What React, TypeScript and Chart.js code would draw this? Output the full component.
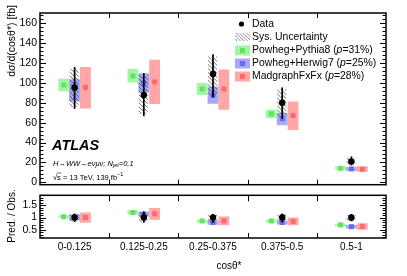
import React, { useEffect, useRef } from 'react';
import { Chart, registerables } from 'chart.js';

Chart.register(...registerables);

const FONT = '"Liberation Sans", Arial, Helvetica, sans-serif';

const categories = ['0-0.125', '0.125-0.25', '0.25-0.375', '0.375-0.5', '0.5-1'];

// ---- main panel (fb) ----
const dataVal = [95.5, 88, 109, 80, 21];
const dataLo = [74, 66.5, 85.3, 64, 17];
const dataHi = [116, 110, 129, 95.5, 26];
const sysLo = [76, 69, 87.5, 66, 17.8];
const sysHi = [114, 108, 127, 94, 24.5];

const pythiaVal = [97.9, 107, 94, 69, 14];
const pythiaLo = [91.7, 100.4, 87.8, 64.6, 12.4];
const pythiaHi = [104.3, 114, 100, 73, 16.2];

const herwigVal = [95.5, 100, 87.5, 64, 13.4];
const herwigLo = [81.4, 90.4, 79.1, 57.5, 11.4];
const herwigHi = [103.7, 109.8, 96.2, 69.8, 15.3];

const mgVal = [95.5, 101, 94, 67.2, 13];
const mgLo = [74.3, 78.8, 73, 52.7, 10.5];
const mgHi = [116, 123.3, 113.6, 81.4, 16];

// ---- ratio panel (Pred./Obs.) ----
const ratioData = [1, 1, 1, 1, 1];
const ratioDataLo = [0.82, 0.79, 0.79, 0.8, 0.85];
const ratioDataHi = [1.16, 1.25, 1.14, 1.16, 1.14];
const ratioSysLo = [0.84, 0.81, 0.81, 0.82, 0.86];
const ratioSysHi = [1.14, 1.23, 1.12, 1.14, 1.12];

const pythiaRatio = [1.03, 1.2, 0.86, 0.86, 0.7];
const pythiaRatioLo = [0.99, 1.12, 0.79, 0.8, 0.65];
const pythiaRatioHi = [1.09, 1.29, 0.91, 0.91, 0.75];

const herwigRatio = [1.0, 1.13, 0.8, 0.8, 0.63];
const herwigRatioLo = [0.88, 1.04, 0.71, 0.72, 0.55];
const herwigRatioHi = [1.12, 1.23, 0.88, 0.87, 0.7];

const mgRatio = [1.0, 1.15, 0.86, 0.84, 0.64];
const mgRatioLo = [0.79, 0.91, 0.69, 0.69, 0.5];
const mgRatioHi = [1.2, 1.39, 1.04, 1.0, 0.77];

// ---- ticks / legend ----
const mainTicks = [0, 20, 40, 60, 80, 100, 120, 140, 160];
const ratioTicks = [0.5, 1, 1.5];
const ratioTickLabels = ['0.5', '1', '1.5'];
const modelNames = ['Powheg+Pythia8', 'Powheg+Herwig7', 'MadgraphFxFx'];
const modelP = ['31%', '25%', '28%'];

const boxColors = ['#a2f5a2', '#a8a8f8', '#ffa6a6'];
const markColors = ['#5fe55f', '#6a6af3', '#ff6a6a'];

function drawHatch(ctx: CanvasRenderingContext2D, x: number, y: number, w: number, h: number, sp: number, color: string) {
  ctx.save();
  ctx.beginPath();
  ctx.rect(x, y, w, h);
  ctx.clip();
  ctx.beginPath();
  const L = h + w + 4;
  for (let s = -L; s < w + 2; s += sp) {
    ctx.moveTo(x + s, y);
    ctx.lineTo(x + s + L, y + L);
  }
  ctx.strokeStyle = color;
  ctx.lineWidth = 0.7;
  ctx.stroke();
  ctx.restore();
}

function makeDecor(o: any) {
  return {
    id: o.id,
    beforeDatasetDraw(chart: any, args: any) {
      if (args.meta.type !== 'line') return;
      const ctx = chart.ctx;
      const ys = chart.scales.y;
      ctx.save();
      args.meta.data.forEach((pt: any, i: number) => {
        const x = pt.x;
        const yt = ys.getPixelForValue(o.sysHi[i]);
        const yb = ys.getPixelForValue(o.sysLo[i]);
        drawHatch(ctx, x - 5, yt, 9, yb - yt, 4, '#333');
        ctx.beginPath();
        ctx.moveTo(x, ys.getPixelForValue(o.hi[i]));
        ctx.lineTo(x, ys.getPixelForValue(o.lo[i]));
        ctx.strokeStyle = '#000';
        ctx.lineWidth = 1.7;
        ctx.stroke();
      });
      ctx.restore();
    },
    afterDatasetDraw(chart: any, args: any) {
      if (args.meta.type !== 'bar') return;
      const ctx = chart.ctx;
      const ys = chart.scales.y;
      const centers = o.centers[args.index];
      ctx.save();
      ctx.fillStyle = markColors[args.index];
      args.meta.data.forEach((el: any, i: number) => {
        const y = ys.getPixelForValue(centers[i]);
        ctx.fillRect(el.x - 2.5, y - 2.5, 5, 5);
      });
      ctx.restore();
    },
    afterDraw(chart: any) {
      const ctx = chart.ctx;
      const a = chart.chartArea;
      const ys = chart.scales.y;
      const xs = chart.scales.x;
      ctx.save();
      ctx.strokeStyle = '#000';
      ctx.lineWidth = 1;
      ctx.beginPath();
      const kmin = Math.ceil(ys.min / o.minor - 1e-9);
      for (let k = kmin; k * o.minor <= ys.max + 1e-9; k++) {
        const v = k * o.minor;
        const py = Math.round(ys.getPixelForValue(v)) + 0.5;
        const r = v / o.major;
        const major = Math.abs(r - Math.round(r)) < 1e-6;
        const len = major ? 6 : 3.5;
        ctx.moveTo(a.left, py);
        ctx.lineTo(a.left + len, py);
        ctx.moveTo(a.right, py);
        ctx.lineTo(a.right - len, py);
      }
      for (let i = 1; i < categories.length; i++) {
        const px = Math.round((xs.getPixelForValue(i - 1) + xs.getPixelForValue(i)) / 2) + 0.5;
        ctx.moveTo(px, a.top);
        ctx.lineTo(px, a.top + o.topTick);
        ctx.moveTo(px, a.bottom);
        ctx.lineTo(px, a.bottom - o.bottomTick);
      }
      ctx.stroke();
      ctx.lineWidth = 1.5;
      ctx.strokeRect(a.left, a.top, a.right - a.left, a.bottom - a.top);
      ctx.restore();
      o.drawText(chart);
    },
  };
}

function richText(ctx: CanvasRenderingContext2D, parts: any[], x: number, y: number) {
  let cx = x;
  for (const p of parts) {
    ctx.font = p.font;
    ctx.fillText(p.t, cx, y + (p.dy || 0));
    cx += ctx.measureText(p.t).width;
  }
  return cx;
}

function drawMainText(chart: any) {
  const ctx = chart.ctx as CanvasRenderingContext2D;
  ctx.save();
  ctx.fillStyle = '#000';
  ctx.textBaseline = 'middle';
  ctx.save();
  ctx.translate(12, 5);
  ctx.rotate(-Math.PI / 2);
  ctx.textAlign = 'right';
  ctx.font = `10.5px ${FONT}`;
  ctx.fillText('dσ/d(cosθ*) [fb]', 0, 0);
  ctx.restore();
  ctx.textAlign = 'left';
  ctx.font = `italic bold 14.5px ${FONT}`;
  ctx.fillText('ATLAS', 52, 146);
  const n = `italic 7.5px ${FONT}`;
  const nsub = `italic 5.5px ${FONT}`;
  richText(ctx, [
    { t: 'H→WW→eνμν; N', font: n },
    { t: 'jet', font: nsub, dy: 2 },
    { t: '=0,1', font: n },
  ], 53, 163.5);
  const e = `7.5px ${FONT}`;
  const sx = 53;
  richText(ctx, [
    { t: '√', font: e },
    { t: 's', font: e },
    { t: ' = 13 TeV, 139 fb', font: e },
    { t: '−1', font: `5.5px ${FONT}`, dy: -3 },
  ], sx, 177.5);
  ctx.font = e;
  const w1 = ctx.measureText('√').width;
  const w2 = ctx.measureText('s').width;
  ctx.beginPath();
  ctx.moveTo(sx + w1 - 0.5, 173);
  ctx.lineTo(sx + w1 + w2 + 0.3, 173);
  ctx.lineWidth = 0.6;
  ctx.strokeStyle = '#000';
  ctx.stroke();

  const lx = 235;
  const tx = 252;
  const f = `10.4px ${FONT}`;
  const fi = `italic 10.4px ${FONT}`;
  ctx.beginPath();
  ctx.arc(241.5, 24, 2.6, 0, Math.PI * 2);
  ctx.fill();
  ctx.font = f;
  ctx.fillText('Data', tx, 24);
  drawHatch(ctx, lx, 32.5, 15, 8.5, 3.5, '#666');
  ctx.fillStyle = '#000';
  ctx.font = f;
  ctx.fillText('Sys. Uncertainty', tx, 37);
  const ys = [50.5, 63.5, 76.5];
  for (let i = 0; i < 3; i++) {
    ctx.fillStyle = boxColors[i];
    ctx.fillRect(lx, ys[i] - 5, 15, 10);
    ctx.fillStyle = markColors[i];
    ctx.fillRect(lx + 5, ys[i] - 2.5, 5, 5);
    ctx.fillStyle = '#000';
    richText(ctx, [
      { t: modelNames[i] + ' (', font: f },
      { t: 'p', font: fi },
      { t: '=' + modelP[i] + ')', font: f },
    ], tx, ys[i]);
  }
  ctx.restore();
}

function drawRatioText(chart: any) {
  const ctx = chart.ctx as CanvasRenderingContext2D;
  ctx.save();
  ctx.fillStyle = '#000';
  ctx.textBaseline = 'middle';
  ctx.save();
  ctx.translate(12, 30);
  ctx.rotate(-Math.PI / 2);
  ctx.textAlign = 'center';
  ctx.font = `10px ${FONT}`;
  ctx.fillText('Pred. / Obs.', 0, 0);
  ctx.restore();
  ctx.textAlign = 'center';
  ctx.font = `10px ${FONT}`;
  ctx.fillText('cosθ*', 229, 80);
  ctx.restore();
}

function barSet(i: number, lo: number[], hi: number[]) {
  return {
    type: 'bar' as const,
    label: modelNames[i],
    data: lo.map((l, k) => [l, hi[k]]),
    backgroundColor: boxColors[i],
    borderWidth: 0,
    categoryPercentage: 0.47,
    barPercentage: 1,
    order: 2,
  };
}

export default function App() {
  const mainRef = useRef<HTMLCanvasElement>(null);
  const ratioRef = useRef<HTMLCanvasElement>(null);

  useEffect(() => {
    const yAxisCommon = {
      grid: { display: false, drawTicks: false },
      border: { display: false },
      afterFit: (s: any) => { s.width = 40; },
    };

    const main = new Chart(mainRef.current!, {
      type: 'bar',
      data: {
        labels: categories,
        datasets: [
          barSet(0, pythiaLo, pythiaHi),
          barSet(1, herwigLo, herwigHi),
          barSet(2, mgLo, mgHi),
          {
            type: 'line' as const,
            label: 'Data',
            data: dataVal,
            showLine: false,
            pointRadius: 3.2,
            pointBackgroundColor: '#000',
            pointBorderWidth: 0,
            order: 1,
          } as any,
        ],
      },
      options: {
        responsive: false,
        animation: false,
        devicePixelRatio: 1,
        layout: { padding: { top: 13, bottom: 2, left: 0, right: 21 } },
        plugins: { legend: { display: false }, tooltip: { enabled: false } },
        scales: {
          x: { display: false, offset: true },
          y: {
            ...yAxisCommon,
            min: -2.5,
            max: 170.5,
            afterBuildTicks: (s: any) => { s.ticks = mainTicks.map((v) => ({ value: v })); },
            ticks: {
              color: '#000',
              padding: 3,
              font: { family: FONT, size: 10.5 },
              callback: (v: any) => String(v),
            },
          },
        },
      } as any,
      plugins: [makeDecor({
        id: 'mainDecor',
        lo: dataLo, hi: dataHi, sysLo, sysHi,
        centers: [pythiaVal, herwigVal, mgVal],
        minor: 4, major: 20, topTick: 5, bottomTick: 5,
        drawText: drawMainText,
      })],
    });

    const ratio = new Chart(ratioRef.current!, {
      type: 'bar',
      data: {
        labels: categories,
        datasets: [
          barSet(0, pythiaRatioLo, pythiaRatioHi),
          barSet(1, herwigRatioLo, herwigRatioHi),
          barSet(2, mgRatioLo, mgRatioHi),
          {
            type: 'line' as const,
            label: 'Data',
            data: ratioData,
            showLine: false,
            pointRadius: 3.2,
            pointBackgroundColor: '#000',
            pointBorderWidth: 0,
            order: 1,
          } as any,
        ],
      },
      options: {
        responsive: false,
        animation: false,
        devicePixelRatio: 1,
        layout: { padding: { top: 6, bottom: 0, left: 0, right: 21 } },
        plugins: { legend: { display: false }, tooltip: { enabled: false } },
        scales: {
          x: {
            offset: true,
            grid: { display: false, drawTicks: false },
            border: { display: false },
            afterFit: (s: any) => { s.height = 38; },
            ticks: {
              color: '#000',
              padding: 3,
              maxRotation: 0,
              autoSkip: false,
              font: { family: FONT, size: 10 },
            },
          },
          y: {
            ...yAxisCommon,
            min: 0.17,
            max: 1.9,
            afterBuildTicks: (s: any) => { s.ticks = ratioTicks.map((v) => ({ value: v })); },
            ticks: {
              color: '#000',
              padding: 3,
              font: { family: FONT, size: 10.5 },
              callback: (v: any) => ratioTickLabels[ratioTicks.indexOf(Number(v))] ?? '',
            },
          },
        },
      } as any,
      plugins: [makeDecor({
        id: 'ratioDecor',
        lo: ratioDataLo, hi: ratioDataHi, sysLo: ratioSysLo, sysHi: ratioSysHi,
        centers: [pythiaRatio, herwigRatio, mgRatio],
        minor: 0.1, major: 0.5, topTick: 6, bottomTick: 5,
        drawText: drawRatioText,
      })],
    });

    return () => {
      main.destroy();
      ratio.destroy();
    };
  }, []);

  return (
    <div style={{ position: 'absolute', left: 0, top: 0, width: 407, height: 276, background: '#fff' }}>
      <canvas ref={mainRef} width={407} height={194} style={{ position: 'absolute', left: 0, top: 0 }} />
      <canvas ref={ratioRef} width={407} height={90} style={{ position: 'absolute', left: 0, top: 186 }} />
    </div>
  );
}
